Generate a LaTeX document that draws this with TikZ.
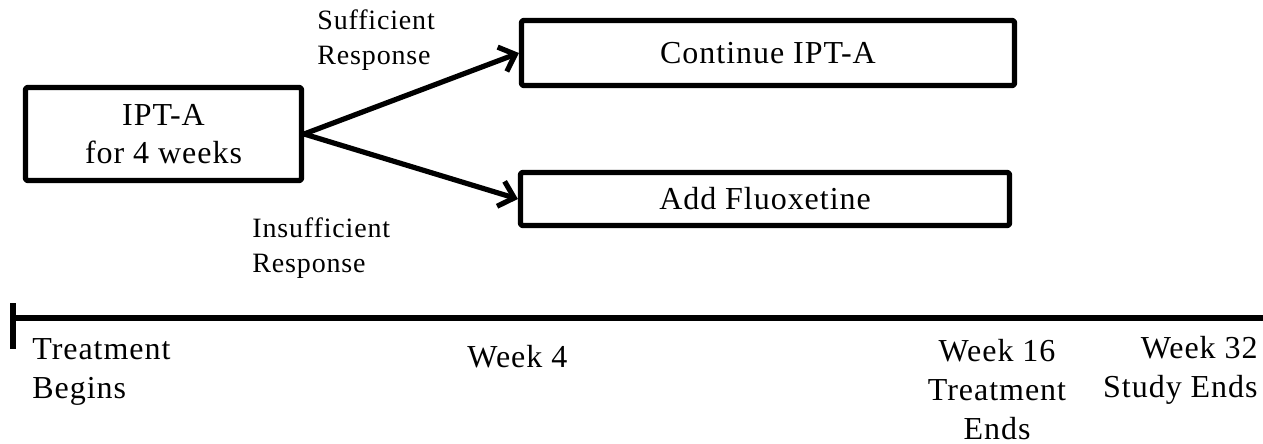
\documentclass[tikz,border=0pt]{standalone}
\usepackage{fontspec}
\setmainfont{Liberation Serif}[LetterSpace=3]
\usetikzlibrary{arrows.meta}

\begin{document}
\begin{tikzpicture}[line cap=round,line join=round,>={Straight Barb[length=7pt,width=13pt]},x=0.5pt,y=-0.5pt,
  box/.style={draw,line width=2.6pt,rounded corners=1pt,inner sep=0pt,align=center,font=\fontsize{16}{19}\selectfont},
  lbl/.style={inner sep=0pt,font=\fontsize{16}{19.5}\selectfont},
  armlbl/.style={inner sep=0pt,align=left,font=\fontsize{14}{17.5}\selectfont}]
\useasboundingbox (0,0) rectangle (1263,444);
\node [box,minimum width=138pt,minimum height=46.5pt] (ipt) at (163.5,134) {IPT-A\\for 4 weeks};
\node [box,minimum width=246.5pt,minimum height=32.5pt] (cont) at (768,53) {Continue IPT-A};
\node [box,minimum width=244.5pt,minimum height=26.5pt] (fluox) at (765,199) {Add Fluoxetine};
\draw [->,line width=2.6pt] (ipt.east) -- (cont.west);
\draw [->,line width=2.6pt] (ipt.east) -- (fluox.west);
\node [armlbl,anchor=west] (suff) at (317,40) {Sufficient\\Response};
\node [armlbl,anchor=west] (insuff) at (252,248) {Insufficient\\Response};
% time line
\coordinate (t0) at (13,318);
\coordinate (tend) at (1263,318);
\coordinate (tick top) at (13,303);
\coordinate (tick bot) at (13,349);
\draw [line width=2.6pt,line cap=butt] (tick top) -- (tick bot);
\draw [line width=2.6pt,line cap=butt] (t0) -- (tend);
\node [lbl,anchor=west,align=left] (begin) at (32,372) {Treatment\\Begins};
\node [lbl,anchor=west] (wk4) at (467,357) {Week 4};
\node [lbl,align=center] (wk16) at (997,390) {Week 16\\Treatment\\Ends};
\node [lbl,anchor=east,align=right] (wk32) at (1258,370) {Week 32\\Study Ends};
\end{tikzpicture}
\end{document}
